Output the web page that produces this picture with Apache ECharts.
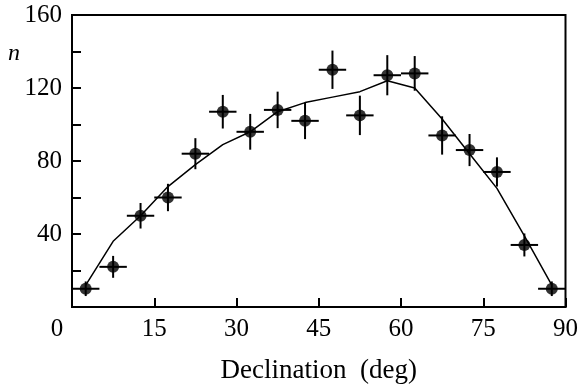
<!DOCTYPE html>
<html>
<head>
<meta charset="utf-8">
<script src="https://cdn.jsdelivr.net/npm/echarts@6/dist/echarts.min.js"></script>
<style>
  html, body { margin: 0; padding: 0; background: #fff; }
  #main { width: 581px; height: 389px; }
</style>
</head>
<body>
<div id="main"></div>
<script>
// bin centres (deg) and counts
var declination = [2.5, 7.5, 12.5, 17.5, 22.5, 27.5, 32.5, 37.5, 42.5, 47.5, 52.5, 57.5, 62.5, 67.5, 72.5, 77.5, 82.5, 87.5];
var counts = [10, 22, 50, 60, 84, 107, 96, 108, 102, 130, 105, 127, 128, 94, 86, 74, 34, 10];
var countErr = [4, 6, 7, 7.5, 8.5, 9.2, 9.8, 10, 10, 10.5, 10.8, 11, 9.5, 10.5, 8.8, 8, 6.3, 4];
var binHalf = [2.5, 2.5, 2.5, 2.5, 2.5, 2.5, 2.5, 2.5, 2.5, 2.5, 2.5, 2.5, 2.5, 2.5, 2.5, 2.5, 2.5, 2.5];
// expected curve
var model = [12, 36, 50, 66, 78, 89, 96, 107, 112, 115, 118, 124, 120, 103, 84, 65, 39, 12];

var xTicks = [0, 15, 30, 45, 60, 75, 90];
var yTicks = [40, 80, 120, 160];

var font = 'Liberation Serif';

var chartDom = document.getElementById('main');
var myChart = echarts.init(chartDom);

var pts = [], errs = [], curve = [];
for (var i = 0; i < declination.length; i++) {
    pts.push([declination[i], counts[i]]);
    errs.push([declination[i], counts[i], countErr[i], binHalf[i]]);
    curve.push([declination[i], model[i]]);
}

function renderErr(params, api) {
    var x = api.value(0), y = api.value(1), e = api.value(2), w = api.value(3);
    var top = api.coord([x, y + e]);
    var bot = api.coord([x, y - e]);
    var l = api.coord([x - w, y]);
    var r = api.coord([x + w, y]);
    var st = { stroke: '#000', lineWidth: 2 };
    return {
        type: 'group',
        children: [
            { type: 'line', shape: { x1: top[0], y1: top[1], x2: bot[0], y2: bot[1] }, style: st },
            { type: 'line', shape: { x1: l[0], y1: l[1], x2: r[0], y2: r[1] }, style: st }
        ]
    };
}

option = {
    animation: false,
    backgroundColor: '#fff',
    grid: {
        left: 72, right: 14, top: 15, bottom: 78,
        show: true, borderColor: '#000', borderWidth: 2
    },
    graphic: [{
        type: 'text',
        left: 8, top: 42,
        style: { text: 'n', font: 'italic 24px "Liberation Serif"', fill: '#000' }
    }],
    xAxis: {
        type: 'value',
        min: 0, max: 90, interval: 15,
        name: 'Declination  (deg)',
        nameLocation: 'middle',
        nameGap: 50,
        nameTextStyle: { fontFamily: font, fontSize: 27, color: '#000' },
        axisLine: { show: true, lineStyle: { color: '#000', width: 2 } },
        axisTick: { show: true, inside: true, length: 9, lineStyle: { color: '#000', width: 2 } },
        splitLine: { show: false },
        axisLabel: {
            fontFamily: font, fontSize: 25, color: '#000', margin: 10,
            formatter: function (v) {
                if (xTicks.indexOf(v) < 0) return '';
                return v === 0 ? '{z|0}' : String(v);
            },
            rich: { z: { fontFamily: font, fontSize: 25, color: '#000', padding: [0, 30, 0, 0] } }
        }
    },
    yAxis: {
        type: 'value',
        min: 0, max: 160, interval: 20,
        axisLine: { show: true, lineStyle: { color: '#000', width: 2 } },
        axisTick: { show: true, inside: true, length: 9, lineStyle: { color: '#000', width: 2 } },
        splitLine: { show: false },
        axisLabel: {
            fontFamily: font, fontSize: 25, color: '#000', margin: 10,
            formatter: function (v) { return yTicks.indexOf(v) >= 0 ? String(v) : ''; }
        }
    },
    series: [{
        type: 'line',
        data: curve,
        symbol: 'none',
        lineStyle: { color: '#000', width: 1.5 },
        z: 2
    }, {
        type: 'custom',
        data: errs,
        renderItem: renderErr,
        z: 3
    }, {
        type: 'scatter',
        data: pts,
        symbol: 'circle',
        symbolSize: 12,
        itemStyle: { color: '#000' },
        z: 4
    }]
};

option && myChart.setOption(option);
</script>
</body>
</html>
